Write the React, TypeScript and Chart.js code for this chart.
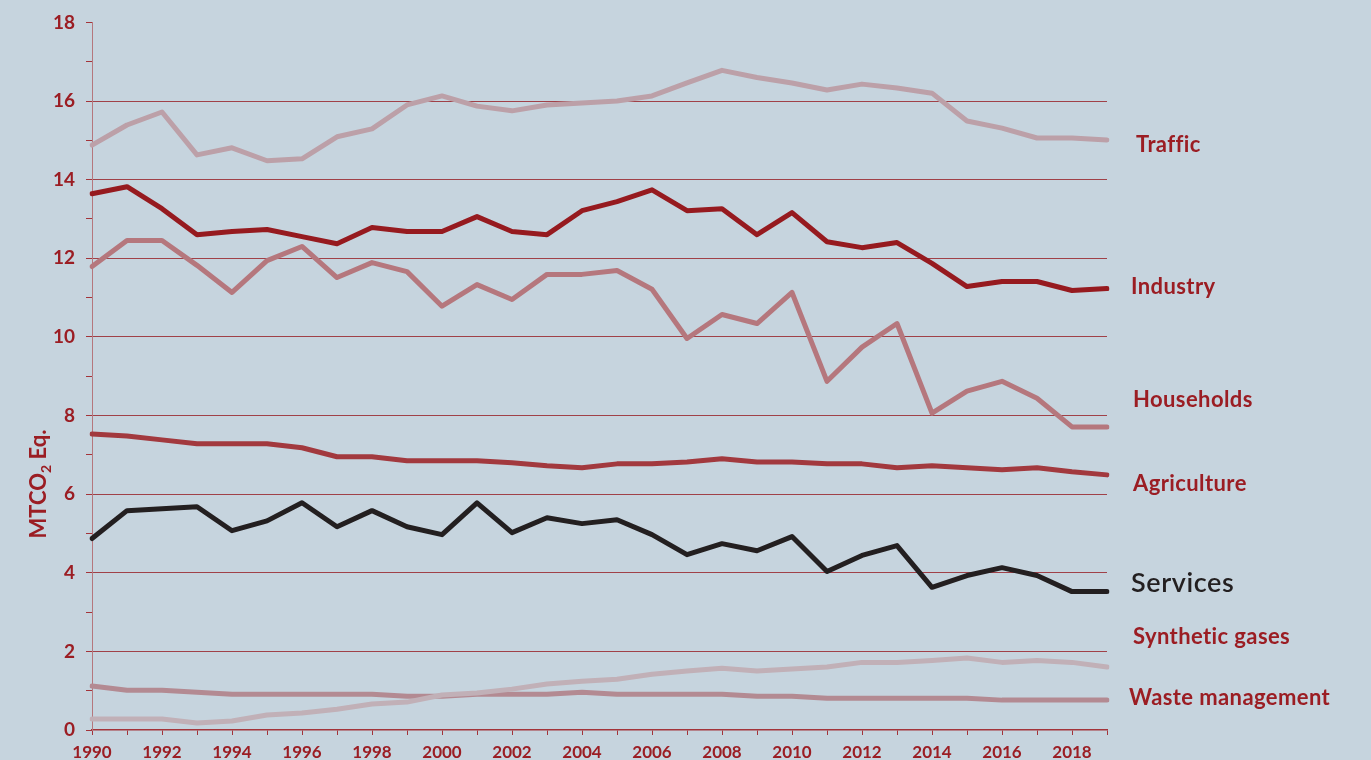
import React, { useEffect, useRef } from 'react';
import { Chart, registerables } from 'chart.js';

Chart.register(...registerables);

const years = [
  '1990', '1991', '1992', '1993', '1994', '1995', '1996', '1997', '1998', '1999',
  '2000', '2001', '2002', '2003', '2004', '2005', '2006', '2007', '2008', '2009',
  '2010', '2011', '2012', '2013', '2014', '2015', '2016', '2017', '2018', '2019',
];

const traffic = [
  14.88, 15.39, 15.72, 14.63, 14.81, 14.48, 14.53, 15.09, 15.29, 15.9,
  16.13, 15.87, 15.75, 15.9, 15.95, 16.0, 16.13, 16.46, 16.78, 16.6,
  16.46, 16.28, 16.43, 16.33, 16.2, 15.49, 15.31, 15.06, 15.06, 15.01,
];

const industry = [
  13.64, 13.82, 13.26, 12.6, 12.68, 12.73, 12.55, 12.37, 12.78, 12.68,
  12.68, 13.06, 12.68, 12.6, 13.21, 13.44, 13.74, 13.21, 13.26, 12.6,
  13.16, 12.42, 12.27, 12.4, 11.87, 11.28, 11.41, 11.41, 11.18, 11.23,
];

const households = [
  11.79, 12.45, 12.45, 11.82, 11.13, 11.94, 12.3, 11.51, 11.89, 11.66,
  10.78, 11.33, 10.95, 11.59, 11.59, 11.69, 11.21, 9.96, 10.57, 10.34,
  11.13, 8.87, 9.74, 10.34, 8.06, 8.62, 8.87, 8.44, 7.71, 7.71,
];

const agriculture = [
  7.53, 7.48, 7.38, 7.28, 7.28, 7.28, 7.18, 6.95, 6.95, 6.85,
  6.85, 6.85, 6.8, 6.72, 6.67, 6.77, 6.77, 6.82, 6.9, 6.82,
  6.82, 6.77, 6.77, 6.67, 6.72, 6.67, 6.62, 6.67, 6.57, 6.49,
];

const services = [
  4.87, 5.58, 5.63, 5.68, 5.07, 5.32, 5.78, 5.17, 5.58, 5.17,
  4.97, 5.78, 5.02, 5.4, 5.25, 5.35, 4.97, 4.46, 4.74, 4.56,
  4.92, 4.03, 4.44, 4.69, 3.63, 3.93, 4.13, 3.93, 3.52, 3.52,
];

const syntheticGases = [
  0.28, 0.28, 0.28, 0.18, 0.23, 0.38, 0.43, 0.53, 0.66, 0.71,
  0.89, 0.94, 1.04, 1.17, 1.24, 1.29, 1.42, 1.5, 1.57, 1.5,
  1.55, 1.6, 1.72, 1.72, 1.77, 1.83, 1.72, 1.77, 1.72, 1.6,
];

const wasteManagement = [
  1.12, 1.01, 1.01, 0.96, 0.91, 0.91, 0.91, 0.91, 0.91, 0.86,
  0.86, 0.91, 0.91, 0.91, 0.96, 0.91, 0.91, 0.91, 0.91, 0.86,
  0.86, 0.81, 0.81, 0.81, 0.81, 0.81, 0.76, 0.76, 0.76, 0.76,
];

const seriesNames = ['Traffic', 'Industry', 'Households', 'Agriculture', 'Services', 'Synthetic gases', 'Waste management'];
const seriesColors = ['#bca0a8', '#961a1f', '#b5777d', '#a2393e', '#231f20', '#c1b0b7', '#b38a92'];
// value at which each right-hand label is centred
const labelValues = [14.88, 11.26, 8.39, 6.26, 3.73, 2.38, 0.81];
const labelOffsets = [29, 24, 26, 26, 24, 26, 22];

const BG = '#c6d4de';
const RED = '#9b1d23';

export default function App() {
  const canvasRef = useRef<HTMLCanvasElement | null>(null);

  useEffect(() => {
    document.body.style.margin = '0';
    document.body.style.background = BG;
    const canvas = canvasRef.current;
    if (!canvas) return;

    const dataArrays = [traffic, industry, households, agriculture, services, syntheticGases, wasteManagement];

    const labelPlugin = {
      id: 'sideLabels',
      afterDraw(chart: any) {
        const ctx = chart.ctx;
        const y = chart.scales.y;
        const right = chart.chartArea.right;
        ctx.save();
        ctx.textBaseline = 'middle';
        ctx.textAlign = 'left';
        seriesNames.forEach((name, i) => {
          const isServices = name === 'Services';
          ctx.font = isServices ? '600 27px Lato' : 'bold 22px Lato';
          (ctx as any).letterSpacing = isServices ? '0.6px' : '0.4px';
          ctx.fillStyle = isServices ? '#231f20' : RED;
          ctx.fillText(name, right + labelOffsets[i], y.getPixelForValue(labelValues[i]));
        });
        (ctx as any).letterSpacing = '0px';
        // y axis title with subscript
        ctx.translate(38, 484);
        ctx.rotate(-Math.PI / 2);
        const main = 'MTCO';
        const sub = '2';
        const rest = ' Eq.';
        ctx.font = 'bold 22px Lato';
        const w1 = ctx.measureText(main).width;
        const w3 = ctx.measureText(rest).width;
        ctx.font = 'bold 14px Lato';
        const w2 = ctx.measureText(sub).width;
        const total = w1 + w2 + w3;
        let x = -total / 2;
        ctx.fillStyle = RED;
        ctx.textBaseline = 'alphabetic';
        ctx.font = 'bold 22px Lato';
        ctx.fillText(main, x, 8);
        x += w1;
        ctx.font = 'bold 14px Lato';
        ctx.fillText(sub, x, 13);
        x += w2;
        ctx.font = 'bold 22px Lato';
        ctx.fillText(rest, x, 8);
        ctx.restore();
      },
    };

    const chart = new Chart(canvas, {
      type: 'line',
      data: {
        labels: years,
        datasets: seriesNames.map((name, i) => ({
          label: name,
          data: dataArrays[i],
          borderColor: seriesColors[i],
          backgroundColor: seriesColors[i],
          borderWidth: 5,
          pointRadius: 0,
          tension: 0,
          borderCapStyle: 'round',
          borderJoinStyle: 'round',
          fill: false,
          order: name === 'Services' ? 0 : i + 1,
        })),
      },
      options: {
        animation: false,
        responsive: false,
        devicePixelRatio: 1,
        layout: { padding: { left: 0, right: 264, top: 20, bottom: 0 } },
        plugins: {
          legend: { display: false },
          tooltip: { enabled: false },
        },
        scales: {
          x: {
            type: 'category',
            offset: false,
            afterFit: (scale: any) => { scale.height = 42; },
            border: { display: true, color: '#a3343a', width: 1.5 },
            grid: {
              drawOnChartArea: false,
              drawTicks: true,
              tickLength: 5,
              color: '#a3343a',
            },
            ticks: {
              autoSkip: false,
              maxRotation: 0,
              minRotation: 0,
              padding: 7,
              color: RED,
              font: { family: 'Lato', weight: 'bold', size: 17 },
              callback: (_v: any, i: number) => (i % 2 === 0 ? years[i] : ''),
            },
          },
          y: {
            min: 0,
            max: 18,
            afterFit: (scale: any) => { scale.width = 92; },
            border: { display: true, color: '#b5777d', width: 1 },
            grid: {
              drawTicks: true,
              tickLength: 6,
              lineWidth: 1,
              color: (ctx: any) => {
                const v = ctx.tick ? ctx.tick.value : -1;
                return v % 2 === 0 && v > 0 && v < 18 ? 'rgba(150,28,34,0.8)' : 'rgba(0,0,0,0)';
              },
              tickColor: '#a3343a',
            },
            ticks: {
              stepSize: 1,
              padding: 11,
              color: RED,
              font: { family: 'Lato', weight: 'bold', size: 19 },
              callback: (v: any) => (Number(v) % 2 === 0 ? String(v) : ''),
            },
          },
        },
      },
      plugins: [labelPlugin],
    } as any);

    return () => chart.destroy();
  }, []);

  return (
    <div style={{ position: 'absolute', left: 0, top: 0, width: 1371, height: 760, overflow: 'hidden', background: BG }}>
      <canvas ref={canvasRef} width={1371} height={772} style={{ display: 'block' }} />
    </div>
  );
}
